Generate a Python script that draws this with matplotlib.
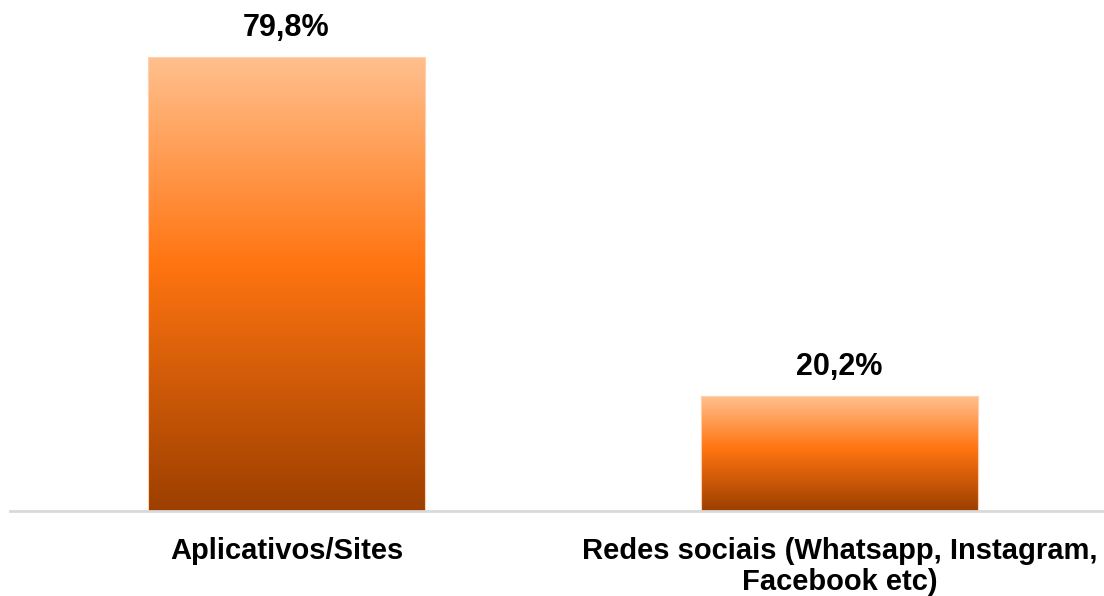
import numpy as np
import matplotlib.pyplot as plt
from matplotlib.colors import LinearSegmentedColormap

categories = ["Aplicativos/Sites", "Redes sociais (Whatsapp, Instagram,\nFacebook etc)"]
values = [79.8, 20.2]
value_labels = ["79,8%", "20,2%"]

plt.rcParams['font.family'] = ['Liberation Sans', 'DejaVu Sans']

fig = plt.figure(figsize=(11.04, 5.96), dpi=100)
W, H = 1104, 596
# axes in pixel terms: left edge 10px, category spacing 553px, baseline at y=511
ax = fig.add_axes([10 / W, (H - 511) / H, 1106 / W, 512 / H])
ax.set_xlim(-0.5, 1.5)
ax.set_ylim(0, 90)

grad_cmap = LinearSegmentedColormap.from_list(
    "bar_grad",
    [(0.0, "#9c3f00"), (0.54, "#ff7410"), (1.0, "#ffc08e")],
)
grad = np.linspace(0, 1, 256).reshape(-1, 1)

bar_width = 0.5
bars = ax.bar(range(len(values)), values, width=bar_width, color="none",
              edgecolor="#ffcfae", linewidth=0.8, zorder=3)
for b in bars:
    x0, y0 = b.get_x(), b.get_y()
    w, h = b.get_width(), b.get_height()
    im = ax.imshow(grad, cmap=grad_cmap, origin="lower", aspect="auto",
                   extent=(x0, x0 + w, y0, y0 + h), zorder=2,
                   interpolation="bicubic")
    im.set_clip_path(b)

for b, lab in zip(bars, value_labels):
    ax.annotate(lab, (b.get_x() + b.get_width() / 2, b.get_height()),
                xytext=(0, 10), textcoords="offset points",
                ha="center", va="bottom", fontsize=22, fontweight="bold",
                color="#000000")

ax.set_xticks(range(len(categories)))
ax.set_xticklabels(categories, fontsize=21, fontweight="bold", linespacing=1.1)
ax.tick_params(axis="x", length=0, pad=19)
ax.set_yticks([])
for s in ("top", "right", "left"):
    ax.spines[s].set_visible(False)
ax.spines["bottom"].set_color("#d9d9d9")
ax.spines["bottom"].set_linewidth(2)
ax.spines["bottom"].set_zorder(4)

fig.savefig("out.png", dpi=100)
